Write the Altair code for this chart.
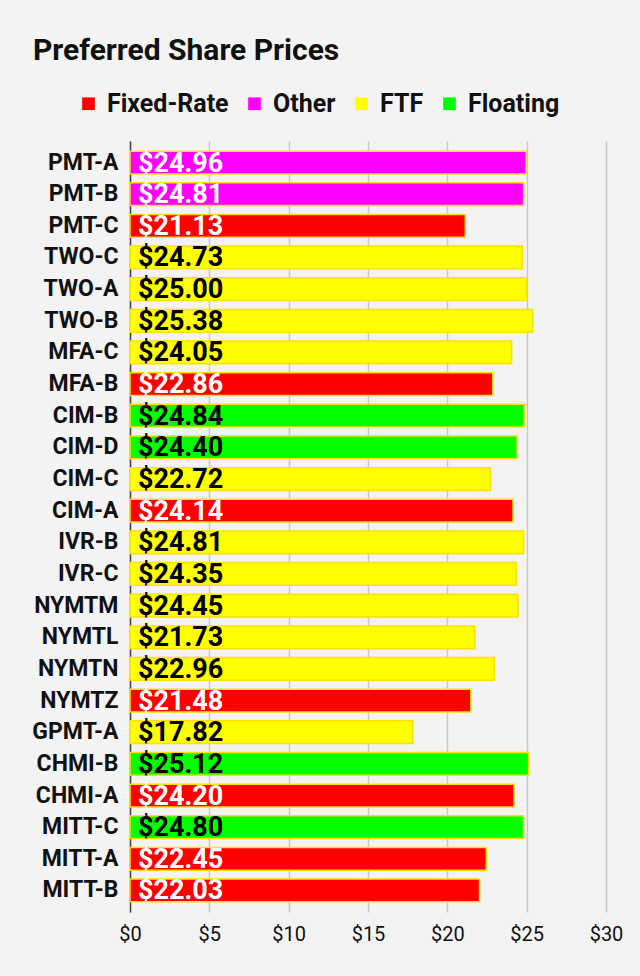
import altair as alt
import pandas as pd
import jinja2
from altair.utils.html import HTML_TEMPLATE

tickers = ["PMT-A", "PMT-B", "PMT-C", "TWO-C", "TWO-A", "TWO-B", "MFA-C", "MFA-B",
           "CIM-B", "CIM-D", "CIM-C", "CIM-A", "IVR-B", "IVR-C", "NYMTM", "NYMTL",
           "NYMTN", "NYMTZ", "GPMT-A", "CHMI-B", "CHMI-A", "MITT-C", "MITT-A", "MITT-B"]
prices = [24.96, 24.81, 21.13, 24.73, 25.00, 25.38, 24.05, 22.86,
          24.84, 24.40, 22.72, 24.14, 24.81, 24.35, 24.45, 21.73,
          22.96, 21.48, 17.82, 25.12, 24.20, 24.80, 22.45, 22.03]
types = ["Other", "Other", "Fixed-Rate", "FTF", "FTF", "FTF", "FTF", "Fixed-Rate",
         "Floating", "Floating", "FTF", "Fixed-Rate", "FTF", "FTF", "FTF", "FTF",
         "FTF", "Fixed-Rate", "FTF", "Floating", "Fixed-Rate", "Floating", "Fixed-Rate", "Fixed-Rate"]
categories = ["Fixed-Rate", "Other", "FTF", "Floating"]
cat_colors = ["#ff0000", "#ff00ff", "#ffff00", "#00ff00"]
x_ticks = [0, 5, 10, 15, 20, 25, 30]

df = pd.DataFrame({"ticker": tickers, "price": prices, "type": types})
df["label"] = df["price"].map(lambda v: f"${v:.2f}")

FONT = "Roboto"
BG = "#f3f3f3"

y_enc = alt.Y("ticker:N", sort=tickers,
              scale=alt.Scale(paddingInner=0.28, paddingOuter=0.32),
              axis=alt.Axis(title=None, labelFontSize=23, labelFontWeight="bold",
                            labelColor="#111111", labelFont=FONT, labelPadding=12,
                            ticks=False, domainColor="#444444", domainWidth=1.5,
                            grid=False))

bars = alt.Chart(df).mark_bar(stroke="#ffe000", strokeWidth=1.5).encode(
    x=alt.X("price:Q", scale=alt.Scale(domain=[0, 30], nice=False),
            axis=alt.Axis(values=x_ticks, labelExpr="'$' + datum.value", title=None,
                          grid=True, gridColor="#c8c8c8", gridWidth=1.5,
                          ticks=False, domain=False, labelFontSize=20, labelFont=FONT,
                          labelColor="#111111", labelPadding=12, labelFlush=False)),
    y=y_enc,
    color=alt.Color("type:N", scale=alt.Scale(domain=categories, range=cat_colors),
                    legend=alt.Legend(orient="none", legendX=-54, legendY=-50,
                                      direction="horizontal", title=None, padding=0,
                                      symbolType="square", symbolSize=160,
                                      symbolStrokeWidth=0, symbolOpacity=1,
                                      labelFontSize=25, labelFontWeight="bold",
                                      labelFont=FONT, labelColor="#111111",
                                      columnPadding=13, labelOffset=6)),
)

labels = alt.Chart(df).mark_text(align="left", baseline="middle", dx=8, dy=1,
                                 fontSize=27, fontWeight="bold", font=FONT).encode(
    x=alt.datum(0),
    y=alt.Y("ticker:N", sort=tickers),
    text="label:N",
    color=alt.condition("datum.type == 'Fixed-Rate' || datum.type == 'Other'",
                        alt.value("#ffffff"), alt.value("#000000")),
)

chart = alt.layer(bars, labels).properties(
    width=476, height=771,
    autosize="none",
    padding={"left": 122, "top": 133, "right": 26, "bottom": 56},
    background=BG,
    title=alt.TitleParams("Preferred Share Prices", anchor="start", frame="group",
                          dx=-97, offset=25, fontSize=30, fontWeight="bold",
                          font=FONT, color="#111111"),
).configure_view(stroke=None)


class BgTemplate(jinja2.Template):
    def render(self, *args, **kwargs):
        html = HTML_TEMPLATE.render(*args, **kwargs)
        return html.replace("<head>", "<head><style>body{background:" + BG + ";}</style>", 1)


try:
    chart.save("out.html", embed_options={"renderer": "svg", "actions": False},
               template=BgTemplate(""))
except Exception:
    chart.save("out.html", embed_options={"renderer": "svg", "actions": False})
